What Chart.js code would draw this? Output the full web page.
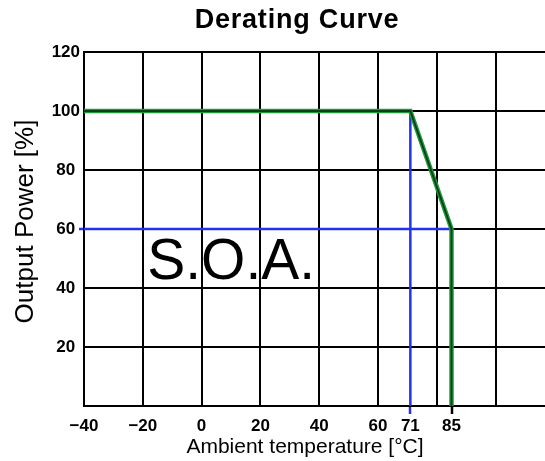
<!DOCTYPE html>
<html>
<head>
<meta charset="utf-8">
<title>Derating Curve</title>
<script src="https://cdn.jsdelivr.net/npm/chart.js@4.4.0/dist/chart.umd.min.js"></script>
<style>
  html, body { margin: 0; padding: 0; background: #fff; overflow: hidden; }
  #wrap { width: 545px; height: 461px; }
</style>
</head>
<body>
<div id="wrap"><canvas id="chart" width="545" height="461"></canvas></div>
<script>
// data
const tempTicks = [-40, -20, 0, 20, 40, 60, 71, 80, 85, 100]
const hiddenTempLabels = [80, 100]
const powerTicks = [0, 20, 40, 60, 80, 100, 120]

const curveTemp = [-40, 71, 85, 85]
const curvePower = [100, 100, 60, 0]

const guide71Temp = [71, 71]
const guide71Power = [100, 0]
const guide60Temp = [-40, 85]
const guide60Power = [60, 60]

const soaLabel = { text: "S.O.A.", temp: -18.5, power: 43 }

const FONT = "'Liberation Sans', Arial, sans-serif"
const BLUE = "#2233ee"
const CLEAR = "rgba(0,0,0,0)"

const toPoints = (xs, ys) => xs.map((x, i) => ({ x: x, y: ys[i] }))

const lineSet = (data, color, width, order) => ({
    data: data,
    borderColor: color,
    borderWidth: width,
    pointRadius: 0,
    fill: false,
    tension: 0,
    clip: false,
    order: order,
})

// titles and the S.O.A. text
const textPlugin = {
    id: "texts",
    afterDraw(chart) {
        const ctx = chart.ctx
        const { x, y } = chart.scales
        ctx.save()
        ctx.fillStyle = "#000"

        ctx.font = "bold 27px " + FONT
        ctx.letterSpacing = "0.8px"
        ctx.textAlign = "center"
        ctx.textBaseline = "alphabetic"
        ctx.fillText("Derating Curve", 297, 28)
        ctx.letterSpacing = "0px"

        ctx.font = "21px " + FONT
        ctx.fillText("Ambient temperature [°C]", 305, 453)

        ctx.save()
        ctx.translate(33, 221.5)
        ctx.rotate(-Math.PI / 2)
        ctx.font = "26px " + FONT
        ctx.fillText("Output Power [%]", 0, 0)
        ctx.restore()

        ctx.font = "57px " + FONT
        ctx.textAlign = "left"
        ctx.fillText(soaLabel.text, x.getPixelForValue(soaLabel.temp), y.getPixelForValue(soaLabel.power))
        ctx.restore()
    },
}

new Chart(document.getElementById("chart"), {
    type: "line",
    data: {
        datasets: [
            lineSet(toPoints(curveTemp, curvePower), "#0e4018", 1.8, 0),
            lineSet(toPoints(curveTemp, curvePower), "#1c9a3c", 4.5, 1),
            lineSet(toPoints(guide71Temp, guide71Power), BLUE, 2.5, 2),
            lineSet(toPoints(guide60Temp, guide60Power), BLUE, 2.5, 3),
        ],
    },
    options: {
        responsive: false,
        animation: false,
        layout: { padding: { top: 52, right: 0, left: 0, bottom: 0 } },
        plugins: {
            legend: { display: false },
            title: { display: false },
            tooltip: { enabled: false },
        },
        scales: {
            x: {
                type: "linear",
                min: -40,
                max: 116.8,
                afterBuildTicks: (scale) => {
                    scale.ticks = tempTicks.map((v) => ({ value: v }))
                },
                afterFit: (scale) => {
                    scale.height = 55
                },
                border: { color: "#000", width: 2 },
                grid: {
                    color: (c) => (c.tick && (c.tick.value === 71 || c.tick.value === 85) ? CLEAR : "#000"),
                    lineWidth: 2,
                    drawTicks: true,
                    tickLength: 8,
                    tickWidth: 2.5,
                    tickColor: (c) => {
                        if (!c.tick) return CLEAR
                        if (c.tick.value === 71) return BLUE
                        if (c.tick.value === 85) return "#000"
                        return CLEAR
                    },
                },
                ticks: {
                    autoSkip: false,
                    maxRotation: 0,
                    padding: 2,
                    color: "#000",
                    font: { family: FONT, size: 17, weight: "bold" },
                    callback: (v) => (hiddenTempLabels.includes(v) ? "" : String(v).replace("-", "\u2212")),
                },
            },
            y: {
                type: "linear",
                min: 0,
                max: 120,
                afterBuildTicks: (scale) => {
                    scale.ticks = powerTicks.map((v) => ({ value: v }))
                },
                afterFit: (scale) => {
                    scale.width = 84
                },
                border: { color: "#000", width: 2 },
                grid: {
                    color: "#000",
                    lineWidth: 2,
                    drawTicks: true,
                    tickLength: 5,
                    tickWidth: 2.5,
                    tickColor: (c) => (c.tick && c.tick.value === 60 ? BLUE : CLEAR),
                },
                ticks: {
                    crossAlign: "center",
                    padding: -1,
                    color: "#000",
                    font: { family: FONT, size: 17, weight: "bold" },
                    callback: (v) => (v === 0 ? "" : String(v)),
                },
            },
        },
    },
    plugins: [textPlugin],
})
</script>
</body>
</html>
